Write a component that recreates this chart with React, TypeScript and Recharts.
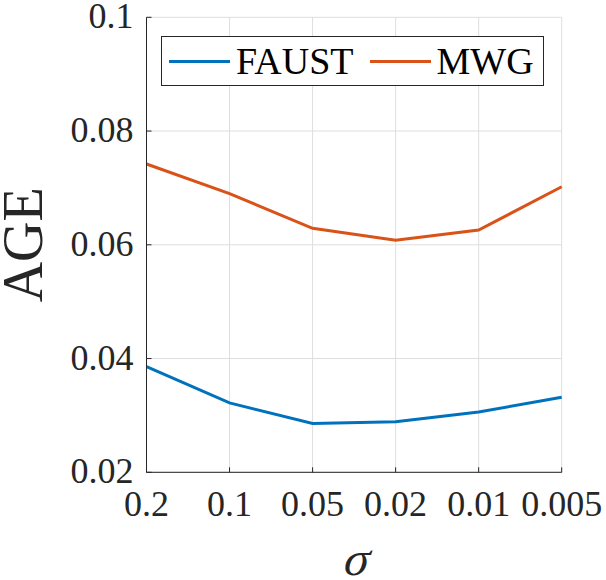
import { LineChart, Line, XAxis, YAxis, CartesianGrid } from "recharts";

// sigma values along the x axis (categorical, evenly spaced)
const sigmaLabels = ["0.2", "0.1", "0.05", "0.02", "0.01", "0.005"];
// AGE per dataset
const faustAge = [0.0386, 0.0322, 0.0286, 0.0289, 0.0306, 0.0332];
const mwgAge = [0.0742, 0.069, 0.0629, 0.0608, 0.0626, 0.0702];
const yTicks = [0.02, 0.04, 0.06, 0.08, 0.1];
const seriesNames = ["FAUST", "MWG"];

const FONT = "Times New Roman";
const INK = "#262626";
const BLUE = "#0072BD";
const ORANGE = "#D95319";

const data = sigmaLabels.map((sigma, i) => ({
  sigma,
  faust: faustAge[i],
  mwg: mwgAge[i],
}));

// MATLAB style: ticks point into the plot
function YTick({ x, y, payload }: any) {
  const label = String(Number(Number(payload.value).toFixed(2)));
  return (
    <g>
      <line x1={x} x2={x + 5} y1={y} y2={y} stroke={INK} strokeWidth={1} />
      <text x={x - 13} y={y + 11} textAnchor="end" fill={INK} fontFamily={FONT} fontSize={36}>
        {label}
      </text>
    </g>
  );
}

function XTick({ x, y, payload }: any) {
  return (
    <g>
      <line x1={x} x2={x} y1={y} y2={y - 5} stroke={INK} strokeWidth={1} />
      <text x={x} y={y + 44} textAnchor="middle" fill={INK} fontFamily={FONT} fontSize={36}>
        {payload.value}
      </text>
    </g>
  );
}

function AgeLabel({ viewBox }: any) {
  const bx = viewBox.x + 42;
  const cy = viewBox.y + viewBox.height / 2;
  return (
    <text
      x={bx}
      y={cy}
      textAnchor="middle"
      transform={`rotate(-90, ${bx}, ${cy})`}
      fill={INK}
      fontFamily={FONT}
      fontSize={56}
    >
      AGE
    </text>
  );
}

// slanted by a transform instead of an italic face
function SigmaLabel({ viewBox }: any) {
  const cx = viewBox.x + viewBox.width / 2;
  const by = viewBox.y + 103;
  return (
    <g transform={`translate(${cx}, ${by}) skewX(-14)`}>
      <text x={0} y={0} textAnchor="middle" fill={INK} fontFamily={FONT} fontSize={48}>
        {"\u03c3"}
      </text>
    </g>
  );
}

function LegendBox() {
  const colors = [BLUE, ORANGE];
  return (
    <div
      style={{
        position: "absolute",
        left: 161,
        top: 36,
        boxSizing: "border-box",
        width: 383,
        height: 50,
        border: `1px solid ${INK}`,
        background: "#fff",
        display: "flex",
        alignItems: "center",
        paddingLeft: 7,
        fontFamily: FONT,
        fontSize: 38,
        color: "#000",
      }}
    >
      {seriesNames.map((name, i) => (
        <div key={name} style={{ display: "flex", alignItems: "center", marginLeft: i ? 16 : 0 }}>
          <span style={{ display: "inline-block", width: 61, height: 3, background: colors[i], marginRight: 6 }} />
          <span style={{ lineHeight: 1 }}>{name}</span>
        </div>
      ))}
    </div>
  );
}

export default function App() {
  return (
    <div style={{ position: "absolute", left: 0, top: 0, width: 606, height: 580 }}>
      <LineChart
        width={606}
        height={580}
        data={data}
        margin={{ top: 17.3, right: 44.3, left: 0, bottom: 0 }}
      >
        <CartesianGrid stroke="#dedede" strokeWidth={1} />
        <XAxis
          dataKey="sigma"
          height={107.7}
          interval={0}
          tickSize={0}
          tickMargin={0}
          tickLine={false}
          axisLine={{ stroke: INK, strokeWidth: 1 }}
          tick={<XTick />}
          label={{ value: "\u03c3", content: <SigmaLabel /> }}
        />
        <YAxis
          width={146.5}
          domain={[0.02, 0.1]}
          ticks={yTicks}
          interval={0}
          tickSize={0}
          tickMargin={0}
          tickLine={false}
          axisLine={{ stroke: INK, strokeWidth: 1 }}
          tick={<YTick />}
          label={{ value: "AGE", content: <AgeLabel /> }}
        />
        <Line
          type="linear"
          dataKey="faust"
          name={seriesNames[0]}
          stroke={BLUE}
          strokeWidth={3}
          dot={false}
          isAnimationActive={false}
        />
        <Line
          type="linear"
          dataKey="mwg"
          name={seriesNames[1]}
          stroke={ORANGE}
          strokeWidth={3}
          dot={false}
          isAnimationActive={false}
        />
      </LineChart>
      <LegendBox />
    </div>
  );
}
